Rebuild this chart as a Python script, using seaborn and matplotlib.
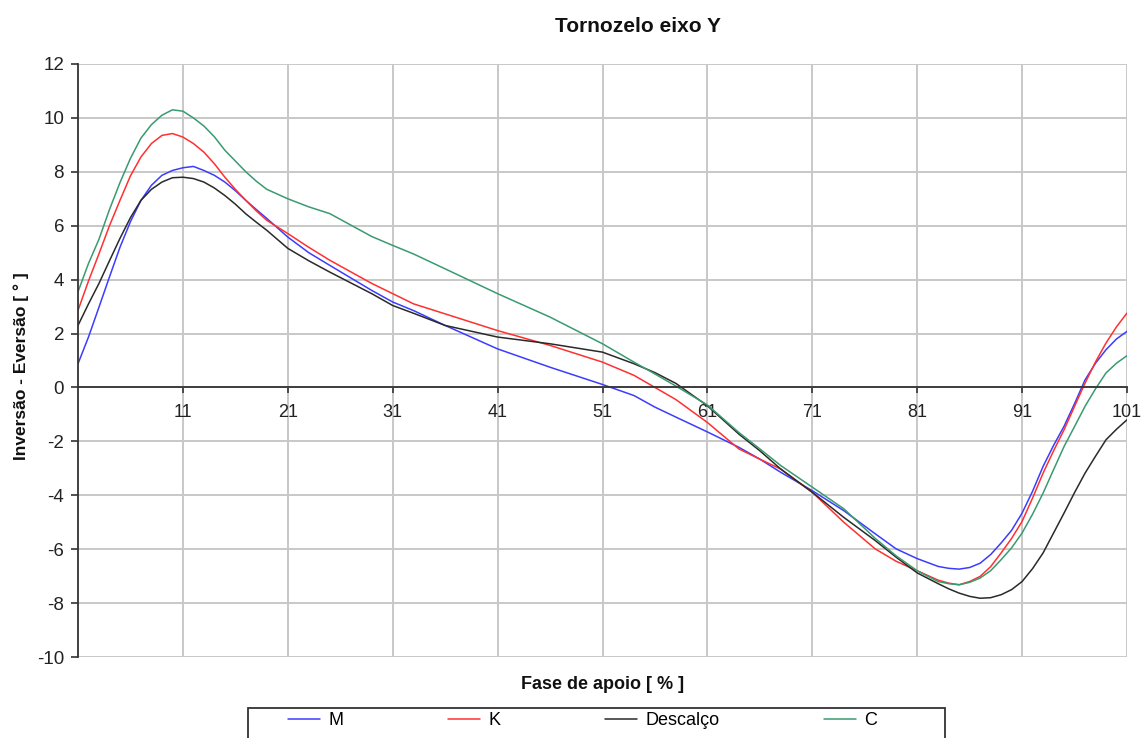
import numpy as np
import pandas as pd
import matplotlib
matplotlib.use("Agg")
import matplotlib.pyplot as plt
import seaborn as sns
from matplotlib.patches import Rectangle

# ---- data ----
fase = [1, 2, 3, 4, 5, 6, 7, 8, 9, 10, 11, 12, 13, 14, 15, 16, 17, 18, 19, 21, 23, 25,
        29, 31, 33, 36, 41, 46, 51, 54, 56, 58, 61, 64, 66, 68, 71, 74, 77, 79, 81,
        83, 84, 85, 86, 87, 88, 89, 90, 91, 92, 93, 94, 95, 96, 97, 98, 99, 100, 101]

serie_m = [0.88, 1.87, 2.98, 4.1, 5.2, 6.15, 6.94, 7.5, 7.87, 8.05, 8.15, 8.2, 8.05,
           7.87, 7.62, 7.3, 6.94, 6.6, 6.27, 5.58, 5.0, 4.53, 3.6, 3.17, 2.85, 2.30,
           1.43, 0.75, 0.11, -0.3, -0.73, -1.1, -1.65, -2.22, -2.66, -3.15, -3.83,
           -4.57, -5.43, -5.99, -6.35, -6.64, -6.71, -6.74, -6.68, -6.52, -6.2, -5.77,
           -5.3, -4.66, -3.85, -2.93, -2.15, -1.44, -0.6, 0.28, 0.9, 1.40, 1.8, 2.08]

serie_k = [2.86, 3.95, 4.96, 6.0, 6.94, 7.85, 8.55, 9.05, 9.35, 9.42, 9.29, 9.05, 8.73,
           8.3, 7.8, 7.35, 6.94, 6.55, 6.2, 5.71, 5.2, 4.72, 3.86, 3.48, 3.1, 2.73,
           2.11, 1.56, 0.94, 0.45, 0.0, -0.45, -1.30, -2.28, -2.66, -3.03, -3.89,
           -5.0, -5.99, -6.45, -6.8, -7.15, -7.26, -7.32, -7.2, -7.01, -6.65, -6.14,
           -5.6, -4.97, -4.1, -3.18, -2.35, -1.57, -0.7, 0.16, 0.95, 1.65, 2.25, 2.76]

serie_descalco = [2.30, 3.1, 3.86, 4.7, 5.53, 6.3, 6.94, 7.35, 7.62, 7.78, 7.8, 7.75,
                  7.62, 7.4, 7.12, 6.8, 6.44, 6.13, 5.83, 5.16, 4.7, 4.28, 3.48, 3.04,
                  2.75, 2.30, 1.87, 1.62, 1.31, 0.88, 0.55, 0.15, -0.68, -1.73, -2.35,
                  -3.03, -3.89, -4.82, -5.68, -6.3, -6.88, -7.28, -7.47, -7.63, -7.75,
                  -7.82, -7.8, -7.69, -7.5, -7.2, -6.72, -6.14, -5.4, -4.66, -3.9,
                  -3.18, -2.55, -1.94, -1.55, -1.2]

serie_c = [3.55, 4.6, 5.5, 6.6, 7.6, 8.5, 9.25, 9.75, 10.1, 10.3, 10.25, 10.0, 9.7,
           9.3, 8.8, 8.4, 8.0, 7.65, 7.35, 7.0, 6.7, 6.45, 5.6, 5.27, 4.95, 4.4,
           3.48, 2.61, 1.62, 0.94, 0.5, 0.05, -0.65, -1.67, -2.28, -2.9, -3.7, -4.5,
           -5.6, -6.25, -6.8, -7.2, -7.28, -7.32, -7.23, -7.07, -6.8, -6.39, -5.95,
           -5.4, -4.7, -3.92, -3.05, -2.19, -1.45, -0.70, -0.05, 0.54, 0.9, 1.18]

series_names = ["M", "K", "Descalço", "C"]
series_colors = ["#3c3cff", "#ff3030", "#2a2a2a", "#3a9a70"]
x_ticks = [11, 21, 31, 41, 51, 61, 71, 81, 91, 101]
y_ticks = list(range(-10, 13, 2))

# ---- style ----
sns.set_theme(style="white")
plt.rcParams['font.family'] = ['Liberation Sans', 'DejaVu Sans']
plt.rcParams['axes.unicode_minus'] = False
plt.rcParams['text.color'] = '#000000'

df = pd.concat([
    pd.DataFrame({"fase": fase, "valor": vals, "serie": name})
    for name, vals in zip(series_names, [serie_m, serie_k, serie_descalco, serie_c])
], ignore_index=True)

W, H = 1143, 738
fig = plt.figure(figsize=(W / 100, H / 100), dpi=100, facecolor="white")
ax = fig.add_axes([78 / W, 1 - 657 / H, (1127 - 78) / W, (657 - 64) / H])

sns.lineplot(data=df, x="fase", y="valor", hue="serie", hue_order=series_names,
             palette=series_colors, estimator=None, sort=False, linewidth=1.1, ax=ax)

ax.set_xlim(1, 101)
ax.set_ylim(-10, 12)
ax.set_xticks(x_ticks)
ax.set_yticks(y_ticks)
ax.set_axisbelow(True)
ax.grid(True, color="#c8c8c8", linewidth=1.4)

for s in ["top", "right"]:
    ax.spines[s].set_visible(False)
ax.spines["left"].set_color("#333333")
ax.spines["left"].set_linewidth(1.3)
ax.spines["bottom"].set_position(("data", 0))
ax.spines["bottom"].set_color("#333333")
ax.spines["bottom"].set_linewidth(1.3)

ax.tick_params(axis="x", direction="out", length=4, width=1.2, color="#333333",
               labelsize=13, pad=8, labelcolor="#222222", bottom=True)
ax.tick_params(axis="y", direction="out", length=5, width=1.2, color="#333333",
               labelsize=13.5, pad=5, labelcolor="#222222", left=True)

ax.set_xlabel("Fase de apoio [ % ]", fontsize=13, fontweight="bold", color="#111111")
ax.xaxis.set_label_coords(0.5, -0.032)
ax.set_ylabel("Inversão - Eversão [ ° ]", fontsize=12.5, fontweight="bold", color="#111111")
ax.yaxis.set_label_coords(-0.047, 0.49)

fig.text(638 / W, 1 - 27 / H, "Tornozelo eixo Y", ha="center", va="center",
         fontsize=15, fontweight="bold", color="#111111")

handles, labels = ax.get_legend_handles_labels()
ax.get_legend().remove()
fig.legend(handles, labels, ncol=4, loc="upper left",
           bbox_to_anchor=(288 / W, 1 - 712 / H), frameon=False, fontsize=13,
           handlelength=1.78, handletextpad=0.45, columnspacing=5.8,
           borderpad=0, borderaxespad=0, labelcolor="#000000")
fig.add_artist(Rectangle((248 / W, 1 - 770 / H), (945 - 248) / W, (770 - 708) / H,
                         transform=fig.transFigure, fill=False,
                         edgecolor="#333333", linewidth=1.3))

fig.savefig("out.png", dpi=100, facecolor="white")
